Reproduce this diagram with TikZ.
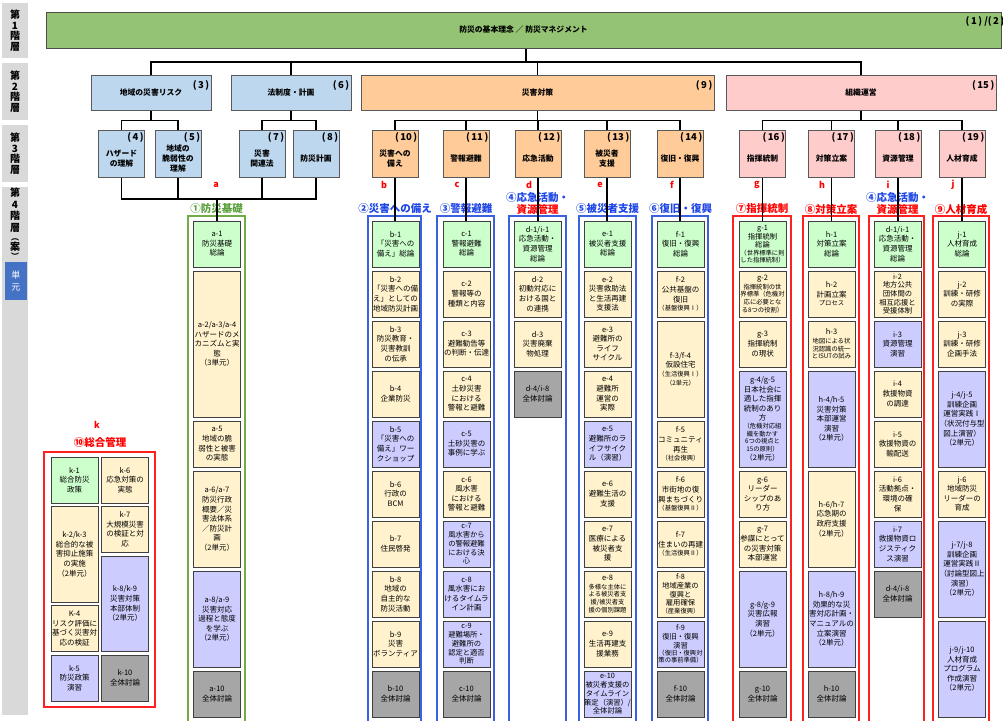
\documentclass[tikz,border=0pt]{standalone}
\usepackage{fontspec}
\setmainfont{Noto Sans CJK JP}
\definecolor{topgreen}{HTML}{94C473}
\definecolor{lvblue}{HTML}{BDD7EE}
\definecolor{lvpeach}{HTML}{FFCC99}
\definecolor{lvpink}{HTML}{FFCCCC}
\definecolor{cellgreen}{HTML}{CCFFCC}
\definecolor{cellcream}{HTML}{FFF2CC}
\definecolor{celllav}{HTML}{CCCCFF}
\definecolor{cellgray}{HTML}{A6A6A6}
\definecolor{sidegray}{HTML}{D9D9D9}
\definecolor{sideblue}{HTML}{4472C4}
\definecolor{fgreen}{HTML}{70AD47}
\definecolor{fblue}{HTML}{3A62E0}
\definecolor{fred}{HTML}{FF2020}
\definecolor{labgreen}{HTML}{5AA03C}
\definecolor{labblue}{HTML}{1E46E6}
\definecolor{labred}{HTML}{FF0000}
\newcommand{\headfont}{\fontsize{7.8}{10}\selectfont\bfseries}
\newcommand{\numfont}{\fontsize{9.5}{10}\selectfont\bfseries}
\newcommand{\colfont}{\fontsize{10.5}{12}\selectfont\bfseries}
\newcommand{\letterfont}{\fontsize{9}{10}\selectfont\bfseries}
\newcommand{\sidefont}{\fontsize{10}{10.5}\selectfont\bfseries}
\newcommand{\parfont}{\fontsize{8}{8}\selectfont\bfseries}
\newcommand{\cellfont}{\fontsize{7.5}{9.6}\selectfont}
\newcommand{\tightfont}{\fontsize{7.3}{8.7}\selectfont}
\newcommand{\subnote}{\fontsize{6.3}{7}\selectfont}
\newcommand{\sn}[1]{{\subnote #1}}
\newcommand{\pnum}[1]{(\hspace{1.5pt}#1\hspace{1.5pt})}
\newcommand{\utop}{221}
\newcommand{\upitch}{50}
\newcommand{\ugap}{4}
\newcommand{\ucell}[6]{%
  \pgfmathsetmacro{\cellh}{\upitch*(#4-#3+1)-\ugap}%
  \pgfmathsetmacro{\celly}{\utop+\upitch*(#3-1)+\cellh/2}%
  \node[#5, minimum height=\cellh pt] (#1) at (#2,\celly) {#6};}
\newcommand{\topic}[5]{%
  \node[lvthree, fill=#4] (#1) at (#2,153.5) {};
  \node[num] (#1n) at ([xshift=-1pt,yshift=-3pt]#1.north east) {\pnum{#3}};
  \node[lvtext] (#1t) at ([yshift=-5pt]#1.center) {#5};}

\begin{document}
\begin{tikzpicture}[x=1pt, y=-1pt,
    link/.style={line width=1.1pt},
    lvone/.style={draw=black!70, line width=1pt, fill=topgreen, minimum width=955pt, minimum height=36pt, font=\headfont, inner sep=0},
    lvtwo/.style={draw=black!65, line width=1pt, minimum height=35pt, font=\headfont, inner sep=0},
    lvthree/.style={draw=black!65, line width=1pt, minimum width=46pt, minimum height=47pt, inner sep=0},
    lvtext/.style={font=\headfont, align=center, inner sep=0},
    num/.style={font=\numfont, inner sep=0, anchor=north east},
    cellbox/.style={draw=black!75, line width=1pt, minimum width=47pt, inner sep=0, align=center, font=\cellfont},
    cgreen/.style={cellbox, fill=cellgreen},
    ccream/.style={cellbox, fill=cellcream},
    clav/.style={cellbox, fill=celllav},
    cgray/.style={cellbox, fill=cellgray},
    tight/.style={font=\tightfont},
    colframe/.style={line width=1.4pt},
    colname/.style={font=\colfont, inner sep=0, align=center},
    letter/.style={font=\letterfont, text=labred, inner sep=0},
    sidebox/.style={fill=sidegray, minimum width=26pt, inner sep=0, font=\sidefont, align=center},
    sidetext/.style={font=\fontsize{10}{11.5}\selectfont\bfseries, align=center, inner sep=0}]
\useasboundingbox (0,0) rectangle (1003,720);

\node[sidebox, minimum height=55pt] (s1) at (15,30.5) {第\\1\\階\\層};
\node[sidebox, minimum height=57pt] (s2) at (15,91.5) {第\\2\\階\\層};
\node[sidebox, minimum height=57pt] (s3) at (15,153.5) {第\\3\\階\\層};
\node[sidebox, minimum height=528pt] (s4) at (15,451) {};
\node[sidetext, anchor=north] (s4t) at (15,188) {第\\4\\階\\層\\[-2pt]{\parfont ︵}\\[-2pt]案\\[-2pt]{\parfont ︶}};
\node[fill=sideblue, minimum width=22pt, minimum height=38pt, inner sep=0, text=white, font=\fontsize{9}{12}\selectfont, align=center] (su) at (16,281) {単\\元};

\node[lvone] (top) at (523.5,30) {防災の基本理念 ／ 防災マネジメント};
\node[num] (topn) at ([xshift=3pt,yshift=-5pt]top.north east) {\pnum{1} /\pnum{2}};

\node[lvtwo, fill=lvblue, minimum width=120pt] (n3) at (151,92.5) {地域の災害リスク};
\node[lvtwo, fill=lvblue, minimum width=120pt] (n6) at (291,92.5) {法制度・計画};
\node[lvtwo, fill=lvpeach, minimum width=353pt] (n9) at (537.5,92.5) {災害対策};
\node[lvtwo, fill=lvpink, minimum width=270pt] (n15) at (861,92.5) {組織運営};
\node[num] (n3n) at ([xshift=-2pt,yshift=-6pt]n3.north east) {\pnum{3}};
\node[num] (n6n) at ([xshift=-2pt,yshift=-6pt]n6.north east) {\pnum{6}};
\node[num] (n9n) at ([xshift=-2pt,yshift=-6pt]n9.north east) {\pnum{9}};
\node[num] (n15n) at ([xshift=-2pt,yshift=-6pt]n15.north east) {\pnum{15}};

\topic{n4}{121.5}{4}{lvblue}{ハザード\\の理解}
\topic{n5}{178}{5}{lvblue}{地域の\\脆弱性の\\理解}
\topic{n7}{262}{7}{lvblue}{災害\\関連法}
\topic{n8}{316}{8}{lvblue}{防災計画}
\topic{n10}{395}{10}{lvpeach}{災害への\\備え}
\topic{n11}{466}{11}{lvpeach}{警報避難}
\topic{n12}{538}{12}{lvpeach}{応急活動}
\topic{n13}{607}{13}{lvpeach}{被災者\\支援}
\topic{n14}{680}{14}{lvpeach}{復旧・復興}
\topic{n16}{762.5}{16}{lvpink}{指揮統制}
\topic{n17}{831.5}{17}{lvpink}{対策立案}
\topic{n18}{898}{18}{lvpink}{資源管理}
\topic{n19}{962}{19}{lvpink}{人材育成}

\draw[colframe, draw=fgreen] (188,216) rectangle (245,725);
\draw[colframe, draw=fblue] (368,216) rectangle (421,725);
\draw[colframe, draw=fblue] (437,216) rectangle (494,725);
\draw[colframe, draw=fblue] (509,216) rectangle (566,725);
\draw[colframe, draw=fblue] (579,216) rectangle (636,725);
\draw[colframe, draw=fblue] (652,216) rectangle (708,725);
\draw[colframe, draw=fred] (733,216) rectangle (791,725);
\draw[colframe, draw=fred] (803,216) rectangle (859,725);
\draw[colframe, draw=fred] (869,216) rectangle (924,725);
\draw[colframe, draw=fred] (933,216) rectangle (989,725);
\draw[colframe, draw=fred] (44,452) rectangle (155,707);

\node[letter] (ra) at (216,185) {a};
\node[letter] (rb) at (384,185) {b};
\node[letter] (rc) at (457,185) {c};
\node[letter] (rd) at (529,185) {d};
\node[letter] (re) at (600,185) {e};
\node[letter] (rf) at (672,185) {f};
\node[letter] (rg) at (757,185) {g};
\node[letter] (rh) at (822,185) {h};
\node[letter] (ri) at (888,185) {i};
\node[letter] (rj) at (953,185) {j};
\node[letter] (rk) at (97,425) {k};

\node[colname, text=labgreen] (la) at (216.5,209) {①防災基礎};
\node[colname, text=labblue] (lb) at (395,209) {②災害への備え};
\node[colname, text=labblue] (lc) at (466,209) {③警報避難};
\node[colname] (ld) at (537.5,203) {\textcolor{labblue}{④応急活動・}\\\textcolor{labred}{資源管理}};
\node[colname, text=labblue] (le) at (607.5,209) {⑤被災者支援};
\node[colname, text=labblue] (lf) at (680.5,209) {⑥復旧・復興};
\node[colname, text=labred] (lg) at (762,209) {⑦指揮統制};
\node[colname, text=labred] (lh) at (831,209) {⑧対策立案};
\node[colname] (li) at (897.5,203) {\textcolor{labblue}{④応急活動・}\\\textcolor{labred}{資源管理}};
\node[colname, text=labred] (lj) at (961,209) {⑨人材育成};
\node[colname, text=labred] (lk) at (100,442) {⑩総合管理};

\ucell{a1}{217}{1}{1}{cgreen}{a-1\\防災基礎\\総論}
\ucell{a2}{217}{2}{4}{ccream}{a-2/a-3/a-4\\ハザードのメ\\カニズムと実\\態\\（3単元）}
\ucell{a5}{217}{5}{5}{ccream}{a-5\\地域の脆\\弱性と被害\\の実態}
\ucell{a6}{217}{6}{7}{ccream}{a-6/a-7\\防災行政\\概要／災\\害法体系\\／防災計\\画\\（2単元）}
\ucell{a8}{217}{8}{9}{clav}{a-8/a-9\\災害対応\\過程と態度\\を学ぶ\\（2単元）}
\ucell{a10}{217}{10}{10}{cgray}{a-10\\全体討論}

\ucell{b1}{395.5}{1}{1}{cgreen}{b-1\\「災害への\\備え」総論}
\ucell{b2}{395.5}{2}{2}{ccream}{b-2\\「災害への備\\え」としての\\地域防災計画}
\ucell{b3}{395.5}{3}{3}{ccream}{b-3\\防災教育・\\災害教訓\\の伝承}
\ucell{b4}{395.5}{4}{4}{ccream}{b-4\\企業防災}
\ucell{b5}{395.5}{5}{5}{clav}{b-5\\「災害への\\備え」ワー\\クショップ}
\ucell{b6}{395.5}{6}{6}{ccream}{b-6\\行政の\\BCM}
\ucell{b7}{395.5}{7}{7}{ccream}{b-7\\住民啓発}
\ucell{b8}{395.5}{8}{8}{ccream}{b-8\\地域の\\自主的な\\防災活動}
\ucell{b9}{395.5}{9}{9}{ccream}{b-9\\災害\\ボランティア}
\ucell{b10}{395.5}{10}{10}{cgray}{b-10\\全体討論}

\ucell{c1}{466.5}{1}{1}{cgreen}{c-1\\警報避難\\総論}
\ucell{c2}{466.5}{2}{2}{ccream}{c-2\\警報等の\\種類と内容}
\ucell{c3}{466.5}{3}{3}{ccream}{c-3\\避難勧告等\\の判断・伝達}
\ucell{c4}{466.5}{4}{4}{ccream}{c-4\\土砂災害\\における\\警報と避難}
\ucell{c5}{466.5}{5}{5}{clav}{c-5\\土砂災害の\\事例に学ぶ}
\ucell{c6}{466.5}{6}{6}{ccream}{c-6\\風水害\\における\\警報と避難}
\ucell{c7}{466.5}{7}{7}{clav,tight}{c-7\\風水害から\\の警報避難\\における決\\心}
\ucell{c8}{466.5}{8}{8}{clav}{c-8\\風水害にお\\けるタイムラ\\イン計画}
\ucell{c9}{466.5}{9}{9}{clav,tight}{c-9\\避難場所・\\避難所の\\認定と適否\\判断}
\ucell{c10}{466.5}{10}{10}{cgray}{c-10\\全体討論}

\ucell{d1}{537.5}{1}{1}{cgreen}{d-1/i-1\\応急活動・\\資源管理\\総論}
\ucell{d2}{537.5}{2}{2}{ccream}{d-2\\初動対応に\\おける国と\\の連携}
\ucell{d3}{537.5}{3}{3}{ccream}{d-3\\災害廃棄\\物処理}
\ucell{d4}{537.5}{4}{4}{cgray}{d-4/i-8\\全体討論}

\ucell{e1}{607.5}{1}{1}{cgreen}{e-1\\被災者支援\\総論}
\ucell{e2}{607.5}{2}{2}{ccream}{e-2\\災害救助法\\と生活再建\\支援法}
\ucell{e3}{607.5}{3}{3}{ccream}{e-3\\避難所の\\ライフ\\サイクル}
\ucell{e4}{607.5}{4}{4}{ccream}{e-4\\避難所\\運営の\\実際}
\ucell{e5}{607.5}{5}{5}{clav}{e-5\\避難所のラ\\イフサイク\\ル（演習）}
\ucell{e6}{607.5}{6}{6}{ccream}{e-6\\避難生活の\\支援}
\ucell{e7}{607.5}{7}{7}{ccream}{e-7\\医療による\\被災者支\\援}
\ucell{e8}{607.5}{8}{8}{ccream}{e-8\\[-1pt]\sn{多様な主体に}\\[-2pt]\sn{よる被災者支}\\[-2pt]\sn{援/被災者支}\\[-2pt]\sn{援の個別課題}}
\ucell{e9}{607.5}{9}{9}{ccream}{e-9\\生活再建支\\援業務}
\ucell{e10}{607.5}{10}{10}{clav,tight}{e-10\\被災者支援の\\タイムライン\\策定（演習）/\\全体討論}

\ucell{f1}{680.5}{1}{1}{cgreen}{f-1\\復旧・復興\\総論}
\ucell{f2}{680.5}{2}{2}{ccream}{f-2\\公共基盤の\\復旧\\[-1pt]\sn{（基盤復興Ⅰ）}}
\ucell{f3}{680.5}{3}{4}{ccream}{f-3/f-4\\仮設住宅\\[-1pt]\sn{（生活復興Ⅰ）}\\[-1pt]\sn{（2単元）}}
\ucell{f5}{680.5}{5}{5}{ccream}{f-5\\コミュニティ\\再生\\[-1pt]\sn{（社会復興）}}
\ucell{f6}{680.5}{6}{6}{ccream}{f-6\\市街地の復\\興まちづくり\\[-1pt]\sn{（基盤復興Ⅱ）}}
\ucell{f7}{680.5}{7}{7}{ccream}{f-7\\住まいの再建\\[-1pt]\sn{（生活復興Ⅱ）}}
\ucell{f8}{680.5}{8}{8}{ccream,tight}{f-8\\地域産業の\\復興と\\雇用確保\\[-1pt]\sn{（産業復興）}}
\ucell{f9}{680.5}{9}{9}{clav,tight}{f-9\\復旧・復興\\演習\\[-1pt]\sn{（復旧・復興対}\\[-2pt]\sn{策の事前準備）}}
\ucell{f10}{680.5}{10}{10}{cgray}{f-10\\全体討論}

\ucell{g1}{762.5}{1}{1}{cgreen,tight}{g-1\\指揮統制\\総論\\[-1pt]\sn{（世界標準に則}\\[-2pt]\sn{した指揮統制）}}
\ucell{g2}{762.5}{2}{2}{ccream}{g-2\\[-1pt]\sn{指揮統制の世}\\[-2pt]\sn{界標準（危機対}\\[-2pt]\sn{応に必要とな}\\[-2pt]\sn{る8つの役割）}}
\ucell{g3}{762.5}{3}{3}{ccream}{g-3\\指揮統制\\の現状}
\ucell{g4}{762.5}{4}{5}{clav}{g-4/g-5\\日本社会に\\適した指揮\\統制のあり\\方\\[-2pt]\sn{（危機対応組}\\[-2pt]\sn{織を動かす}\\[-2pt]\sn{6つの視点と}\\[-2pt]\sn{15の原則）}\\（2単元）}
\ucell{g6}{762.5}{6}{6}{ccream}{g-6\\リーダー\\シップのあ\\り方}
\ucell{g7}{762.5}{7}{7}{ccream}{g-7\\参謀にとって\\の災害対策\\本部運営}
\ucell{g8}{762.5}{8}{9}{clav}{g-8/g-9\\災害広報\\演習\\（2単元）}
\ucell{g10}{762.5}{10}{10}{cgray}{g-10\\全体討論}

\ucell{h1}{831.5}{1}{1}{cgreen}{h-1\\対策立案\\総論}
\ucell{h2}{831.5}{2}{2}{ccream}{h-2\\計画立案\\[-1pt]\sn{プロセス}}
\ucell{h3}{831.5}{3}{3}{ccream}{h-3\\[-1pt]\sn{地図による状}\\[-2pt]\sn{況認識の統一}\\[-2pt]\sn{とISUTの試み}}
\ucell{h4}{831.5}{4}{5}{clav}{h-4/h-5\\災害対策\\本部運営\\演習\\（2単元）}
\ucell{h6}{831.5}{6}{7}{ccream}{h-6/h-7\\応急期の\\政府支援\\（2単元）}
\ucell{h8}{831.5}{8}{9}{clav}{h-8/h-9\\効果的な災\\害対応計画・\\マニュアルの\\立案演習\\（2単元）}
\ucell{h10}{831.5}{10}{10}{cgray}{h-10\\全体討論}

\ucell{i1}{897.5}{1}{1}{cgreen}{d-1/i-1\\応急活動・\\資源管理\\総論}
\ucell{i2}{897.5}{2}{2}{ccream,tight}{i-2\\地方公共\\団体間の\\相互応援と\\受援体制}
\ucell{i3}{897.5}{3}{3}{clav}{i-3\\資源管理\\演習}
\ucell{i4}{897.5}{4}{4}{ccream}{i-4\\救援物資\\の調達}
\ucell{i5}{897.5}{5}{5}{ccream}{i-5\\救援物資の\\輸配送}
\ucell{i6}{897.5}{6}{6}{ccream}{i-6\\活動拠点・\\環境の確\\保}
\ucell{i7}{897.5}{7}{7}{clav}{i-7\\救援物資ロ\\ジスティク\\ス演習}
\ucell{i8}{897.5}{8}{8}{cgray}{d-4/i-8\\全体討論}

\ucell{j1}{962}{1}{1}{cgreen}{j-1\\人材育成\\総論}
\ucell{j2}{962}{2}{2}{ccream}{j-2\\訓練・研修\\の実際}
\ucell{j3}{962}{3}{3}{ccream}{j-3\\訓練・研修\\企画手法}
\ucell{j4}{962}{4}{5}{clav}{j-4/j-5\\訓練企画\\運営実践Ⅰ\\（状況付与型\\図上演習）\\（2単元）}
\ucell{j6}{962}{6}{6}{ccream}{j-6\\地域防災\\リーダーの\\育成}
\ucell{j7}{962}{7}{8}{clav}{j-7/j-8\\訓練企画\\運営実践Ⅱ\\（討論型図上\\演習）\\（2単元）}
\ucell{j9}{962}{9}{10}{clav}{j-9/j-10\\人材育成\\プログラム\\作成演習\\（2単元）}

\renewcommand{\utop}{457}
\renewcommand{\upitch}{49.5}
\renewcommand{\ugap}{3.5}
\ucell{k1}{74.5}{1}{1}{cgreen}{k-1\\総合防災\\政策}
\ucell{k2}{74.5}{2}{3}{ccream}{k-2/k-3\\総合的な被\\害抑止施策\\の実施\\（2単元）}
\ucell{k4}{74.5}{4}{4}{ccream}{K-4\\リスク評価に\\基づく災害対\\応の検証}
\ucell{k5}{74.5}{5}{5}{clav}{k-5\\防災政策\\演習}
\ucell{k6}{125}{1}{1}{ccream}{k-6\\応急対策の\\実態}
\ucell{k7}{125}{2}{2}{ccream}{k-7\\大規模災害\\の検証と対\\応}
\ucell{k8}{125}{3}{4}{clav}{k-8/k-9\\災害対策\\本部体制\\（2単元）}
\ucell{k10}{125}{5}{5}{cgray}{k-10\\全体討論}

\coordinate (bus0) at (526,62);
\draw[link] (bus0 |- top.south) -- (bus0);
\draw[link] (n3.north) |- (bus0) -| (n15.north);
\draw[link] (n6.north) -- (n6.north |- bus0);
\draw[link] (n9.north) -- (n9.north |- bus0);

\draw[link] (n3.south) -- ++(0,10) coordinate (bus3);
\draw[link] (n4.north) |- (bus3) -| (n5.north);
\draw[link] (n6.south) -- ++(0,10) coordinate (bus6);
\draw[link] (n7.north) |- (bus6) -| (n8.north);
\draw[link] (n9.south) -- ++(0,10) coordinate (bus9);
\draw[link] (n10.north) |- (bus9) -| (n14.north);
\draw[link] (n11.north) -- (n11.north |- bus9);
\draw[link] (n12.north) -- (n12.north |- bus9);
\draw[link] (n13.north) -- (n13.north |- bus9);
\draw[link] (n15.south) -- ++(0,10) coordinate (bus15);
\draw[link] (n16.north) |- (bus15) -| (n19.north);
\draw[link] (n17.north) -- (n17.north |- bus15);
\draw[link] (n18.north) -- (n18.north |- bus15);

\coordinate (busa) at (217,199);
\draw[link] (n4.south) |- (busa) -| (n8.south);
\draw[link] (n5.south) -- (n5.south |- busa);
\draw[link] (n7.south) -- (n7.south |- busa);
\draw[link] (busa) -- (a1.north);
\draw[link] (n10.south) -- (n10.south |- b1.north);
\draw[link] (n11.south) -- (n11.south |- c1.north);
\draw[link] (n12.south) -- (n12.south |- d1.north);
\draw[link] (n13.south) -- (n13.south |- e1.north);
\draw[link] (n14.south) -- (n14.south |- f1.north);
\draw[link] (n16.south) -- (n16.south |- g1.north);
\draw[link] (n17.south) -- (n17.south |- h1.north);
\draw[link] (n18.south) -- (n18.south |- i1.north);
\draw[link] (n19.south) -- (n19.south |- j1.north);
\end{tikzpicture}
\end{document}
